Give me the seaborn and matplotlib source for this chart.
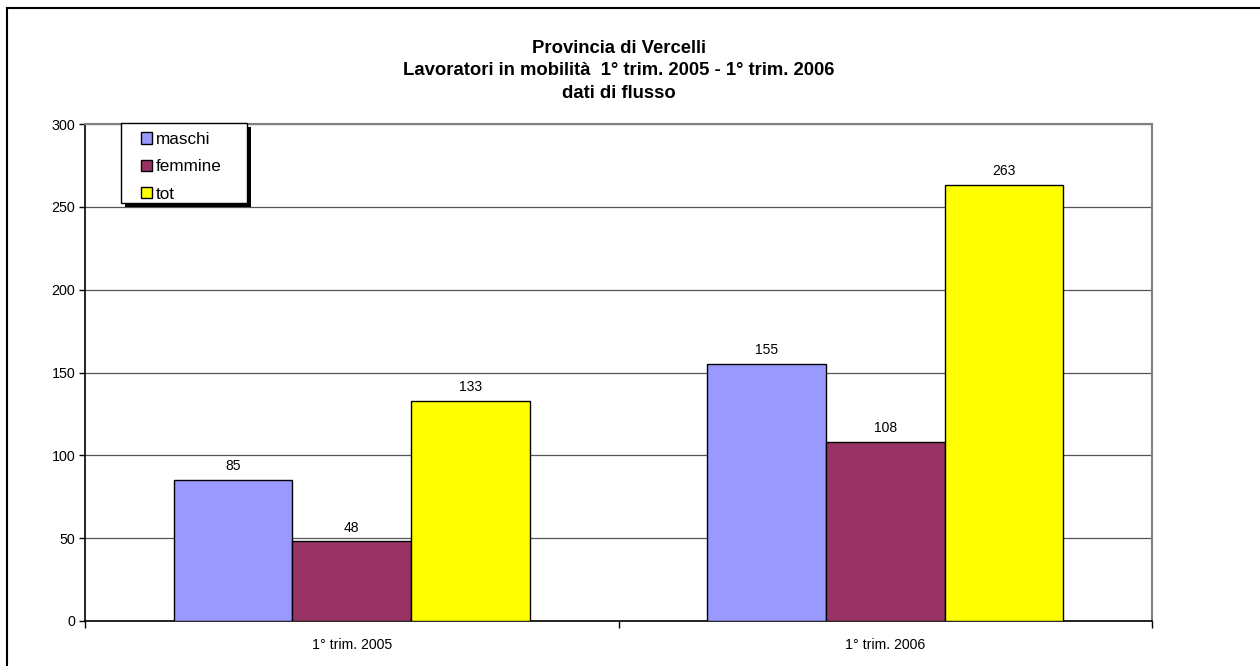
import matplotlib.pyplot as plt
import matplotlib.patches as mpatches
import pandas as pd
import seaborn as sns

# Data
periods = ['1° trim. 2005', '1° trim. 2006']
maschi = [85, 155]
femmine = [48, 108]
tot = [133, 263]
series_names = ['maschi', 'femmine', 'tot']
colors = ['#9999FF', '#993366', '#FFFF00']

df = pd.DataFrame({
    'periodo': periods * 3,
    'serie': [s for s in series_names for _ in periods],
    'valore': maschi + femmine + tot,
})

sns.set_theme(style='white')
plt.rcParams['font.family'] = ['Liberation Sans', 'DejaVu Sans']

W, H = 1260, 666
fig = plt.figure(figsize=(W / 100, H / 100), dpi=100)
ax = fig.add_axes([85 / W, 45 / H, 1067 / W, 497 / H])

sns.barplot(data=df, x='periodo', y='valore', hue='serie', order=periods,
            hue_order=series_names, palette=colors, width=2 / 3,
            edgecolor='black', linewidth=1, saturation=1, ax=ax, zorder=3)

for cont in ax.containers:
    ax.bar_label(cont, padding=5, fontsize=10, color='black')

ax.set_xlim(-0.5, 1.5)
ax.set_ylim(0, 300)
ax.set_yticks(range(0, 301, 50))
ax.yaxis.grid(True, color='#555555', linewidth=0.9, zorder=0)
ax.set_axisbelow(True)
ax.set_xlabel('')
ax.set_ylabel('')

# spines like the original
for s in ['left', 'bottom']:
    ax.spines[s].set_color('black')
    ax.spines[s].set_linewidth(1.2)
for s in ['top', 'right']:
    ax.spines[s].set_color('#808080')
    ax.spines[s].set_linewidth(1.5)

ax.tick_params(axis='y', left=True, length=4, width=1, color='black',
               labelsize=10.3, pad=3, labelcolor='black')
ax.tick_params(axis='x', which='major', bottom=False, length=0,
               labelsize=10.2, pad=12, labelcolor='black')
ax.set_xticks([-0.5, 0.5, 1.5], minor=True)
ax.tick_params(axis='x', which='minor', bottom=True, length=5, width=1,
               color='black')

ax.set_title('Provincia di Vercelli\n'
             'Lavoratori in mobilità  1° trim. 2005 - 1° trim. 2006\n'
             'dati di flusso', fontsize=13.3, fontweight='bold',
             linespacing=1.42, pad=19, color='black')

# legend box with shadow, drawn by hand
ax.add_patch(mpatches.Rectangle((125 / W, 1 - 207 / H), 126 / W, 80 / H,
                                transform=fig.transFigure, clip_on=False,
                                facecolor='black', edgecolor='none',
                                zorder=8))
ax.add_patch(mpatches.Rectangle((121 / W, 1 - 203 / H), 126 / W, 80 / H,
                                transform=fig.transFigure, clip_on=False,
                                facecolor='white', edgecolor='black',
                                linewidth=1, zorder=9))

leg = ax.legend(loc='upper left', bbox_to_anchor=(141 / W, 1 - 132 / H),
                bbox_transform=fig.transFigure, frameon=False, fontsize=12.3,
                handlelength=0.64, handleheight=0.64, handletextpad=0.25,
                borderpad=0, labelspacing=0.72, borderaxespad=0)
leg.set_zorder(10)
for h in leg.legend_handles:
    h.set_edgecolor('black')
    h.set_linewidth(1)
for t in leg.get_texts():
    t.set_color('black')

# outer chart border (left and top visible)
fig.patches.append(mpatches.Rectangle((7 / W, -0.1), 1.2, 1.1 - 8 / H,
                                      transform=fig.transFigure, fill=False,
                                      edgecolor='black', linewidth=1.5))

fig.savefig('out.png', dpi=100)
